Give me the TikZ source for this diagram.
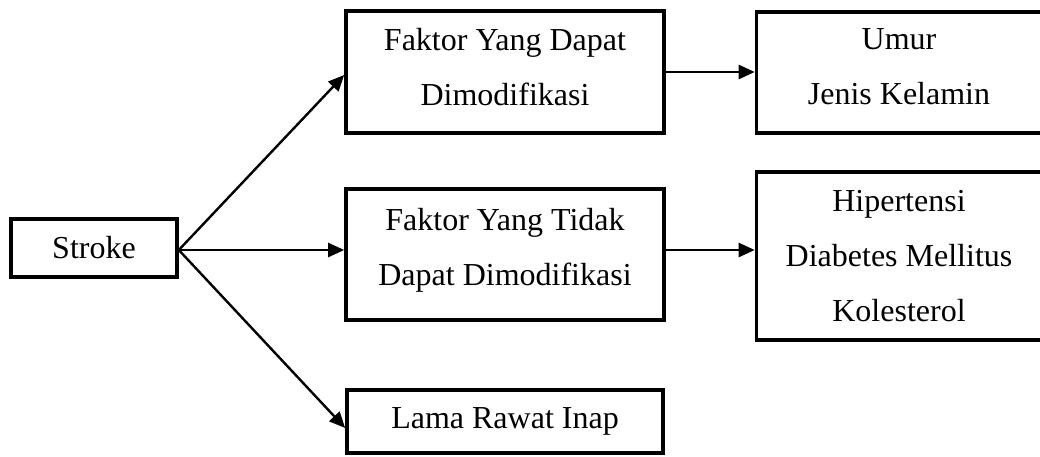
\documentclass[tikz,border=0pt]{standalone}
\usepackage{fontspec}
\setmainfont{Liberation Serif}
\usetikzlibrary{arrows.meta}
\begin{document}
\begin{tikzpicture}[x=1pt,y=-1pt,
  box/.style={draw,line width=3.6pt,rectangle,align=center,inner sep=0pt,
    font=\fontsize{32pt}{55pt}\selectfont},
  arr/.style={line width=2.4pt,-{Triangle[length=16pt,width=14pt]}}]
\useasboundingbox (0,0) rectangle (1040,457);
\node[box,minimum width=166pt,minimum height=58pt] (s) at (94,248) {Stroke};
\node[box,minimum width=318pt,minimum height=122pt,text depth=10pt] (b1) at (505,72) {Faktor Yang Dapat\\Dimodifikasi};
\node[box,minimum width=318pt,minimum height=131pt,text depth=15.5pt] (b2) at (505,254.5) {Faktor Yang Tidak\\Dapat Dimodifikasi};
\node[box,minimum width=316pt,minimum height=63pt] (b3) at (505,421.5) {Lama Rawat Inap};
\node[box,minimum width=285pt,minimum height=121pt,text depth=11pt] (r1) at (899,72.5) {Umur\\Jenis Kelamin};
\node[box,minimum width=285pt,minimum height=168pt] (r2) at (899,256) {Hipertensi\\Diabetes Mellitus\\Kolesterol};
\coordinate (so) at ([yshift=-2pt]s.east);
\draw[arr] (so) -- ([yshift=-3pt]b1.west);
\draw[arr] (so) -- (so -| b2.west);
\draw[arr] (so) -- ([yshift=-6.5pt]b3.west);
\draw[arr] (b1.east) -- (b1.east -| r1.west);
\coordinate (b2o) at ([yshift=4.5pt]b2.east);
\draw[arr] (b2o) -- (b2o -| r2.west);
\end{tikzpicture}
\end{document}
